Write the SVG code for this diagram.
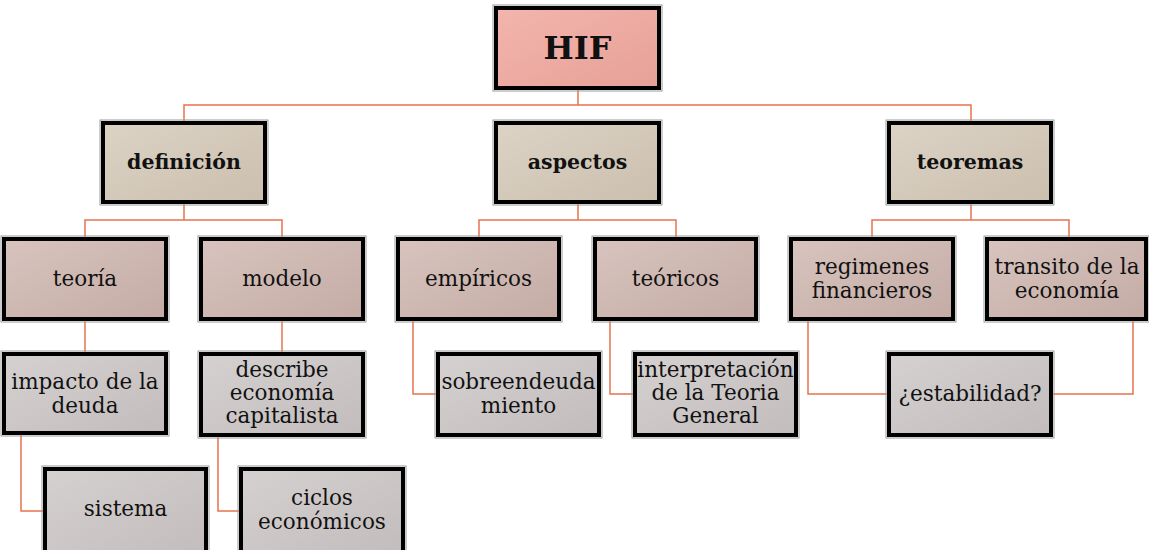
<svg xmlns="http://www.w3.org/2000/svg" width="1149" height="550" viewBox="0 0 1149 550">
<defs>
<linearGradient id="gTop" x1="0" y1="0" x2="1" y2="1"><stop offset="0" stop-color="#f3b5ad"/><stop offset="1" stop-color="#e6a097"/></linearGradient>
<linearGradient id="gL1" x1="0" y1="0" x2="1" y2="1"><stop offset="0" stop-color="#dcd3c5"/><stop offset="1" stop-color="#cbbfae"/></linearGradient>
<linearGradient id="gL2" x1="0" y1="0" x2="1" y2="1"><stop offset="0" stop-color="#d8c3be"/><stop offset="1" stop-color="#c4aca5"/></linearGradient>
<linearGradient id="gL3" x1="0" y1="0" x2="1" y2="1"><stop offset="0" stop-color="#d6d1d1"/><stop offset="1" stop-color="#c2bcbc"/></linearGradient>
<style>
.box{stroke:#000;stroke-width:4}
.sh{fill:none;stroke:#9a9a9a;stroke-width:1}
.t{font-family:"DejaVu Serif","Liberation Serif",serif;font-size:21.5px;fill:#111;text-anchor:middle}
.b{font-weight:bold;font-size:20.5px}
.c{fill:none;stroke:#e8734f;stroke-width:1.5}
</style>
</defs>
<g id="connectors">
<path class="c" d="M578,90V105M184,121V105H971V121"/>
<path class="c" d="M184,204V220M85,237V220H282V237"/>
<path class="c" d="M578,204V220M479,237V220H676V237"/>
<path class="c" d="M971,204V220M872,237V220H1069V237"/>
<path class="c" d="M85,321V352"/>
<path class="c" d="M282,321V352"/>
<path class="c" d="M413,321V394H436"/>
<path class="c" d="M610,321V394H633"/>
<path class="c" d="M808,321V394H887"/>
<path class="c" d="M1133,321V394H1053"/>
<path class="c" d="M21,435V511H43"/>
<path class="c" d="M218,437V511H239"/>
</g>
<g id="hif"><rect class="sh" x="493" y="5" width="169" height="86"/><rect class="box" x="496" y="8" width="163" height="80" fill="url(#gTop)"/><text class="t b" x="577.5" y="59" style="font-size:32px">HIF</text></g>
<g id="definicion"><rect class="sh" x="100" y="120" width="168" height="85"/><rect class="box" x="103" y="123" width="162" height="79" fill="url(#gL1)"/><text class="t b" x="184" y="169">definición</text></g>
<g id="aspectos"><rect class="sh" x="493" y="120" width="169" height="85"/><rect class="box" x="496" y="123" width="163" height="79" fill="url(#gL1)"/><text class="t b" x="577.5" y="169">aspectos</text></g>
<g id="teoremas"><rect class="sh" x="886" y="120" width="168" height="85"/><rect class="box" x="889" y="123" width="162" height="79" fill="url(#gL1)"/><text class="t b" x="970" y="169">teoremas</text></g>
<g id="teoria"><rect class="sh" x="1" y="236" width="168" height="86"/><rect class="box" x="4" y="239" width="162" height="80" fill="url(#gL2)"/><text class="t" x="85" y="286">teoría</text></g>
<g id="modelo"><rect class="sh" x="198" y="236" width="168" height="86"/><rect class="box" x="201" y="239" width="162" height="80" fill="url(#gL2)"/><text class="t" x="282" y="286">modelo</text></g>
<g id="empiricos"><rect class="sh" x="395" y="236" width="167" height="86"/><rect class="box" x="398" y="239" width="161" height="80" fill="url(#gL2)"/><text class="t" x="478.5" y="286">empíricos</text></g>
<g id="teoricos"><rect class="sh" x="592" y="236" width="167" height="86"/><rect class="box" x="595" y="239" width="161" height="80" fill="url(#gL2)"/><text class="t" x="675.5" y="286">teóricos</text></g>
<g id="regimenes"><rect class="sh" x="788" y="236" width="168" height="86"/><rect class="box" x="791" y="239" width="162" height="80" fill="url(#gL2)"/><text class="t" x="872" y="274">regimenes</text><text class="t" x="872" y="298">financieros</text></g>
<g id="transito"><rect class="sh" x="984" y="236" width="165" height="86"/><rect class="box" x="987" y="239" width="159" height="80" fill="url(#gL2)"/><text class="t" x="1067" y="274">transito de la</text><text class="t" x="1067" y="298">economía</text></g>
<g id="impacto"><rect class="sh" x="1" y="351" width="168" height="85"/><rect class="box" x="4" y="354" width="162" height="79" fill="url(#gL3)"/><text class="t" x="85" y="389">impacto de la</text><text class="t" x="85" y="413">deuda</text></g>
<g id="describe"><rect class="sh" x="198" y="351" width="168" height="87"/><rect class="box" x="201" y="354" width="162" height="81" fill="url(#gL3)"/><text class="t" x="282" y="377">describe</text><text class="t" x="282" y="400">economía</text><text class="t" x="282" y="423">capitalista</text></g>
<g id="sobreendeudamiento"><rect class="sh" x="435" y="351" width="167" height="87"/><rect class="box" x="438" y="354" width="161" height="81" fill="url(#gL3)"/><text class="t" x="518.5" y="389">sobreendeuda</text><text class="t" x="518.5" y="413">miento</text></g>
<g id="interpretacion"><rect class="sh" x="632" y="351" width="167" height="87"/><rect class="box" x="635" y="354" width="161" height="81" fill="url(#gL3)"/><text class="t" x="715.5" y="377">interpretación</text><text class="t" x="715.5" y="400">de la Teoria</text><text class="t" x="715.5" y="423">General</text></g>
<g id="estabilidad"><rect class="sh" x="886" y="351" width="168" height="87"/><rect class="box" x="889" y="354" width="162" height="81" fill="url(#gL3)"/><text class="t" x="970" y="401">¿estabilidad?</text></g>
<g id="sistema"><rect class="sh" x="42" y="466" width="167" height="90"/><rect class="box" x="45" y="469" width="161" height="84" fill="url(#gL3)"/><text class="t" x="125.5" y="516">sistema</text></g>
<g id="ciclos"><rect class="sh" x="238" y="466" width="168" height="90"/><rect class="box" x="241" y="469" width="162" height="84" fill="url(#gL3)"/><text class="t" x="322" y="505">ciclos</text><text class="t" x="322" y="529">económicos</text></g>
</svg>
